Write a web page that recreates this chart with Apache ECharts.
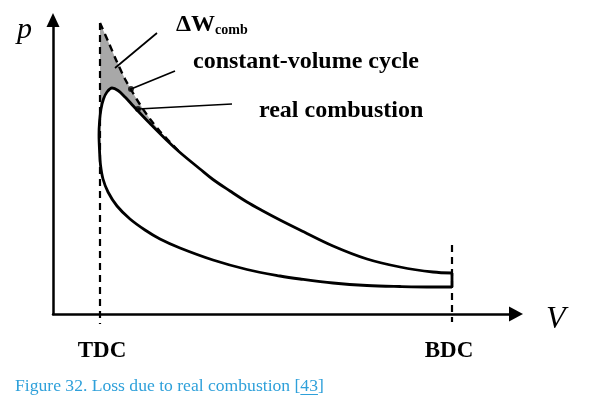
<!DOCTYPE html>
<html>
<head>
<meta charset="utf-8">
<script src="https://cdn.jsdelivr.net/npm/echarts@6/dist/echarts.min.js"></script>
<style>html,body{margin:0;padding:0;background:#fff}#c{width:600px;height:418px}</style>
</head>
<body>
<div id="c"></div>
<script>
// Arbitrary units: V (volume), p (pressure); values read from the schematic
const realV = [7.98,7.60,6.94,6.28,5.60,4.94,4.54,3.88,3.20,2.54,2.14,1.84,1.54,1.28,1.10,1.00,0.95,0.93,0.92,0.93,0.96,1.01,1.08,1.18,1.30,1.44,1.56,1.68,1.94,2.28,2.54,2.94,3.20,3.54,3.88,4.20,4.54,4.94,5.60,6.28,6.94,7.60,7.98];
const realP = [5.4,5.4,5.5,5.7,6.2,7.0,7.6,8.9,10.8,13.2,15.0,16.8,19.0,21.6,24.4,27.0,29.8,32.8,35.8,38.4,41.0,43.0,44.4,45.2,44.7,43.4,42.1,40.8,38.1,34.7,32.3,29.0,26.9,24.6,22.4,20.6,18.8,16.8,13.6,11.0,9.4,8.4,8.2];
const exhaustV = [7.98,7.98];
const exhaustP = [8.2,5.4];
const constVolV = [0.94,1.10,1.28,1.44,1.60,1.74,1.94,2.14,2.34,2.54];
const constVolP = [58.2,54.6,50.4,47.0,44.2,41.9,39.0,36.5,34.4,32.3];
const lossV = [0.94,1.10,1.28,1.44,1.60,1.74,1.94,2.14,1.94,1.68,1.44,1.30,1.18,1.08,1.01,0.96,0.94];
const lossP = [58.2,54.6,50.4,47.0,44.2,41.9,39.0,36.5,38.1,40.8,43.4,44.7,45.2,44.4,43.0,41.0,40.0];
const tdcV = 0.94, bdcV = 7.98;
const tdcP = [58.2,-2.0];
const bdcP = [13.8,-1.6];
const leader1V = [2.08,1.24], leader1P = [56.2,49.2];
const leader2V = [2.44,1.56], leader2P = [48.6,45.0];
const leader3V = [3.58,1.70], leader3P = [42.0,41.0];
const axisNames = ['p','V'];
const tickLabels = ['TDC','BDC'];
const labels = ['ΔW','comb','constant-volume cycle','real combustion'];
const captionPre = 'Figure 32. Loss due to real combustion [';
const ref = '43';
const captionPost = ']';

const zip = (a,b) => a.map((v,i)=>[v,b[i]]);
const chart = echarts.init(document.getElementById('c'), null, {renderer:'canvas'});
const serif = '"Liberation Serif","Times New Roman",serif';
const ink = '#000';
const blue = '#2ea0da';
const solid = (d,w,z) => ({type:'line', data:d, symbol:'none', clip:false, z:z||3, lineStyle:{color:ink,width:w}, animation:false});
const dashed = (d,w) => ({type:'line', data:d, symbol:'none', clip:false, z:4, lineStyle:{color:ink,width:w,type:[7,5]}, animation:false});

chart.setOption({
  animation:false,
  grid:{left:53, right:84, top:20, bottom:104},
  xAxis:{type:'value', min:0, max:9.26, axisLine:{show:true, symbol:['none','triangle'], symbolSize:[15,14], lineStyle:{color:ink,width:2.5}}, axisTick:{show:false}, axisLabel:{show:false}, splitLine:{show:false}},
  yAxis:{type:'value', min:0, max:58.8, axisLine:{show:true, symbol:['none','triangle'], symbolSize:[13,14], lineStyle:{color:ink,width:2.5}}, axisTick:{show:false}, axisLabel:{show:false}, splitLine:{show:false}},
  series:[
    {type:'custom', data:zip(lossV,lossP), z:1, clip:false,
     renderItem:(params, api)=>{
       if(params.dataIndex!==0) return null;
       const pts = lossV.map((v,i)=>api.coord([v,lossP[i]]));
       return {type:'polygon', shape:{points:pts}, style:{fill:'#a8a8a8'}};
     }},
    dashed(zip([tdcV,tdcV],tdcP),2.2),
    dashed(zip([bdcV,bdcV],bdcP),2.2),
    Object.assign(dashed(zip(constVolV,constVolP),2.4),{smooth:0.3}),
    Object.assign(solid(zip(realV,realP),2.8,5),{smooth:0.35}),
    solid(zip(exhaustV,exhaustP),2.8,5),
    solid(zip(leader1V,leader1P),1.7,6),
    solid(zip(leader2V,leader2P),1.7,6),
    solid(zip(leader3V,leader3P),1.7,6),
    {type:'scatter', data:[[leader2V[1],leader2P[1]],[leader3V[1],leader3P[1]]], symbolSize:6, itemStyle:{color:ink}, z:7, animation:false}
  ]
});

const tdcX = chart.convertToPixel({xAxisIndex:0}, tdcV);
const bdcX = chart.convertToPixel({xAxisIndex:0}, bdcV);
const txt = (x,y,text,font,fill,align) => ({type:'text', x:x, y:y, z:10, style:{text:text, font:font, fill:fill||ink, align:align||'left', verticalAlign:'middle'}});
const bold = s => 'bold '+s+'px '+serif;
const capFont = '17.6px '+serif;
const ctx = document.createElement('canvas').getContext('2d');
ctx.font = capFont;
const w1 = ctx.measureText(captionPre).width, w2 = ctx.measureText(ref).width;
chart.setOption({
  graphic:[
    txt(17,30,axisNames[0],'italic 30px '+serif),
    txt(546,320,axisNames[1],'italic 32px '+serif),
    txt(176,24.7,labels[0],bold(24)),
    txt(215,30.7,labels[1],bold(14)),
    txt(193,61.7,labels[2],bold(24)),
    txt(259,110.7,labels[3],bold(24)),
    txt(tdcX+2,351,tickLabels[0],bold(23),ink,'center'),
    txt(bdcX-3,351,tickLabels[1],bold(23),ink,'center'),
    txt(15,386.8,captionPre+ref+captionPost,capFont,blue),
    {type:'line', z:10, shape:{x1:15+w1, y1:394.5, x2:15+w1+w2, y2:394.5}, style:{stroke:blue, lineWidth:1}}
  ]
});
</script>
</body>
</html>
